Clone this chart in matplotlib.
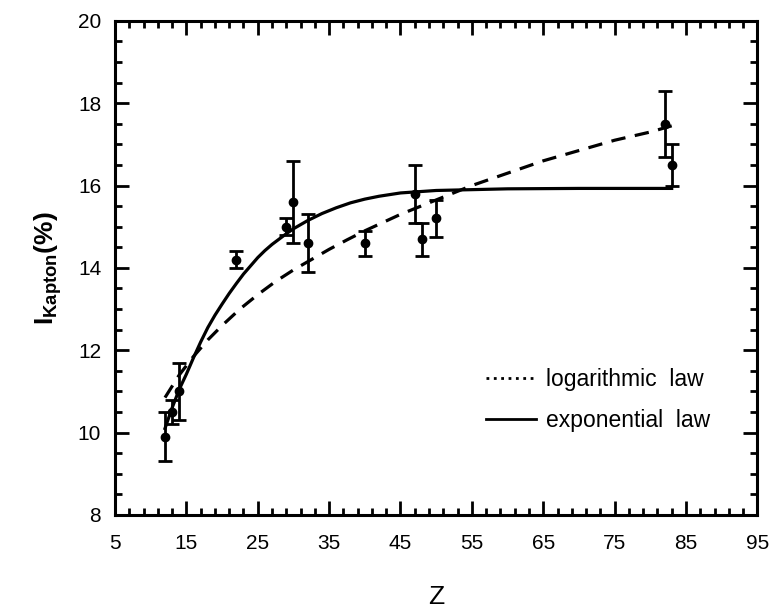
import numpy as np
import matplotlib
matplotlib.use('Agg')
import matplotlib.pyplot as plt
from matplotlib.lines import Line2D
from matplotlib.ticker import MultipleLocator

plt.rcParams['font.family'] = ['Liberation Sans', 'DejaVu Sans']
plt.rcParams['mathtext.fontset'] = 'custom'
plt.rcParams['mathtext.rm'] = 'Liberation Sans'
plt.rcParams['mathtext.bf'] = 'Liberation Sans:bold'

# measured points
Z = [12, 13, 14, 22, 29, 30, 32, 40, 47, 48, 50, 82, 83]
I_kapton = [9.9, 10.5, 11.0, 14.2, 15.0, 15.6, 14.6, 14.6, 15.8, 14.7, 15.2, 17.5, 16.5]
I_err = [0.6, 0.3, 0.7, 0.2, 0.2, 1.0, 0.7, 0.3, 0.7, 0.4, 0.45, 0.8, 0.5]

# curves
Z_log = [12, 14, 16, 18, 20, 22.5, 25, 27.5, 30, 32.5, 35, 37.5, 40, 45, 50, 55,
         60, 65, 70, 75, 80, 83]
I_log = [10.85, 11.4, 11.85, 12.25, 12.6, 13.0, 13.35, 13.67, 13.95, 14.2, 14.45,
         14.68, 14.9, 15.3, 15.65, 16.0, 16.3, 16.6, 16.85, 17.1, 17.3, 17.45]
Z_exp = [12, 13, 14, 15, 16, 17, 18, 19, 20, 21, 22, 23, 24, 25, 26, 27, 28, 29,
         30, 32, 34, 36, 38, 40, 42, 45, 50, 55, 60, 70, 83]
I_exp = [10.1, 10.6, 11.05, 11.42, 11.82, 12.2, 12.55, 12.85, 13.12, 13.38, 13.62,
         13.85, 14.05, 14.25, 14.42, 14.57, 14.7, 14.83, 14.95, 15.15, 15.32,
         15.46, 15.58, 15.67, 15.74, 15.82, 15.88, 15.9, 15.92, 15.93, 15.93]

fig = plt.figure(figsize=(7.72, 6.13), dpi=100)
ax = fig.add_axes([0.149, 0.160, 0.832, 0.806])

ax.plot(Z_log, I_log, color='black', lw=2.3, linestyle=(0, (4.5, 3)))
ax.plot(Z_exp, I_exp, color='black', lw=2.3)
ax.errorbar(Z, I_kapton, yerr=I_err, fmt='o', color='black', ms=6,
            elinewidth=2, capsize=5, capthick=2)

ax.set_xlim(5, 95)
ax.set_ylim(8, 20)
ax.xaxis.set_major_locator(MultipleLocator(10, offset=5))
ax.xaxis.set_minor_locator(MultipleLocator(2, offset=1))
ax.yaxis.set_major_locator(MultipleLocator(2))
ax.yaxis.set_minor_locator(MultipleLocator(0.5))
ax.tick_params(which='both', direction='in', top=True, right=True, width=2)
ax.tick_params(which='major', length=10)
ax.tick_params(which='minor', length=5)
ax.tick_params(axis='x', which='major', labelsize=15, pad=14)
ax.tick_params(axis='y', which='major', labelsize=15, pad=10)
for s in ax.spines.values():
    s.set_linewidth(2.2)

ax.set_xlabel('Z', fontsize=19, labelpad=23)
ax.set_ylabel(r'$\mathbf{I_{Kapton}(\%)}$', fontsize=19, labelpad=10)

handles = [Line2D([], [], color='black', lw=2, linestyle=':'),
           Line2D([], [], color='black', lw=2)]
ax.legend(handles, ['logarithmic  law', 'exponential  law'], loc='center left',
          bbox_to_anchor=(0.545, 0.233), frameon=False, fontsize=16.5,
          handlelength=2.2, handletextpad=0.45, labelspacing=0.8)

fig.savefig('out.png', dpi=100)
